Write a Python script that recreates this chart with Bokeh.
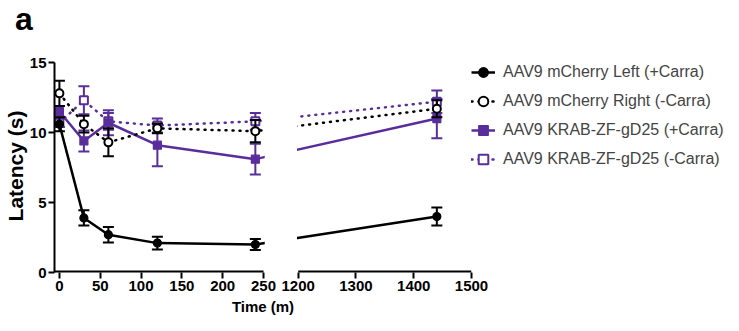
from bokeh.plotting import figure
from bokeh.layouts import column
from bokeh.models import (ColumnDataSource, Range1d, FixedTicker, Legend, LegendItem,
                          BoxAnnotation, Div)
from bokeh.embed import file_html
from bokeh.resources import INLINE

FONT = "Liberation Sans"
BLACK = "#000000"
PURPLE = "#5a2d9c"

# ---------------- data ----------------
time_min = [0, 30, 60, 120, 240, 1440]
left_ticks = [0, 50, 100, 150, 200, 250]
right_ticks = [1200, 1300, 1400, 1500]
y_ticks = [0, 5, 10, 15]

series_labels = ["AAV9 mCherry Left (+Carra)", "AAV9 mCherry Right (-Carra)",
                 "AAV9 KRAB-ZF-gD25 (+Carra)", "AAV9 KRAB-ZF-gD25 (-Carra)"]

mcherry_left_mean = [10.6, 3.9, 2.7, 2.1, 2.0, 4.0]
mcherry_left_sem = [0.5, 0.55, 0.55, 0.45, 0.4, 0.65]
mcherry_right_mean = [12.8, 10.6, 9.3, 10.3, 10.1, 11.7]
mcherry_right_sem = [0.9, 0.6, 1.0, 0.35, 0.8, 0.6]
krab_plus_mean = [11.5, 9.4, 10.7, 9.1, 8.1, 11.0]
krab_plus_sem = [0.4, 0.75, 0.9, 1.5, 1.1, 1.4]
krab_minus_mean = [10.7, 12.3, 10.8, 10.5, 10.8, 12.2]
krab_minus_sem = [0.3, 1.0, 0.6, 0.5, 0.6, 0.8]

# ---------------- broken x axis ----------------
LEFT_END = 250
RIGHT_START = 1200
RIGHT_END = 1500
GAP_UNITS = 42.5
RIGHT_SCALE = 0.7075
X_START = -6


def axis_pos(t):
    if t <= LEFT_END:
        return float(t)
    return LEFT_END + GAP_UNITS + (t - RIGHT_START) * RIGHT_SCALE


x_end = axis_pos(RIGHT_END)

p = figure(frame_width=417, frame_height=213,
           x_range=Range1d(X_START, x_end), y_range=Range1d(0, 15.22),
           output_backend="svg", toolbar_location=None, title_location=None,
           min_border_left=48, min_border_right=0, min_border_top=21, min_border_bottom=0)
p.outline_line_color = None
p.xgrid.visible = False
p.ygrid.visible = False
p.background_fill_color = "white"
p.border_fill_color = "white"

xa = p.xaxis[0]
xa.ticker = FixedTicker(ticks=left_ticks + [axis_pos(t) for t in right_ticks])
xa.major_label_overrides = {axis_pos(t): str(t) for t in right_ticks}
xa.axis_line_color = None
xa.axis_label = "Time (m)"
xa.axis_label_standoff = 4
xa.major_label_standoff = 2

ya = p.yaxis[0]
ya.ticker = FixedTicker(ticks=y_ticks)
ya.bounds = (0, 15)
ya.axis_line_width = 2
ya.axis_line_color = BLACK
ya.axis_label = "Latency (s)"
ya.axis_label_standoff = 0
ya.major_label_standoff = 2

for ax in (xa, ya):
    ax.major_tick_line_width = 2
    ax.major_tick_line_color = BLACK
    ax.major_tick_out = 6
    ax.major_tick_in = 0
    ax.minor_tick_line_color = None
    ax.major_label_text_font = FONT
    ax.major_label_text_font_style = "bold"
    ax.major_label_text_font_size = "15px"
    ax.major_label_text_color = BLACK
    ax.axis_label_text_font = FONT
    ax.axis_label_text_font_style = "bold"
    ax.axis_label_text_color = BLACK
xa.axis_label_text_font_size = "15px"
ya.axis_label_text_font_size = "21px"

# x axis line in two pieces (broken axis), drawn at the bottom edge of the frame
axis_src = ColumnDataSource(dict(
    x0=[X_START, axis_pos(right_ticks[0])],
    x1=[float(left_ticks[-1]), axis_pos(right_ticks[-1])],
    y=[y_ticks[0], y_ticks[0]],
))
p.segment(x0="x0", y0="y", x1="x1", y1="y", source=axis_src, line_color=BLACK, line_width=4)

xpos = [axis_pos(t) for t in time_min]

series = [
    # label, mean, sem, color, dashed, marker, filled
    (series_labels[3], krab_minus_mean, krab_minus_sem, PURPLE, True, "square", False),
    (series_labels[2], krab_plus_mean, krab_plus_sem, PURPLE, False, "square", True),
    (series_labels[1], mcherry_right_mean, mcherry_right_sem, BLACK, True, "circle", False),
    (series_labels[0], mcherry_left_mean, mcherry_left_sem, BLACK, False, "circle", True),
]

legend_map = {}
for label, mean, sem, color, dashed, marker, filled in series:
    src = ColumnDataSource(dict(
        x=xpos, y=mean,
        lo=[m - s for m, s in zip(mean, sem)],
        hi=[m + s for m, s in zip(mean, sem)],
    ))
    if dashed:
        lr = p.line("x", "y", source=src, line_color=color, line_width=2.5,
                    line_dash="1 6", line_cap="round")
    else:
        lr = p.line("x", "y", source=src, line_color=color, line_width=2.5)
    p.segment(x0="x", y0="lo", x1="x", y1="hi", source=src, line_color=color, line_width=2)
    p.scatter("x", "lo", source=src, marker="dash", size=11, line_color=color, line_width=2)
    p.scatter("x", "hi", source=src, marker="dash", size=11, line_color=color, line_width=2)
    if filled:
        mr = p.scatter("x", "y", source=src, marker=marker, size=8,
                       fill_color=color, line_color=color, line_width=1.2)
    else:
        mr = p.scatter("x", "y", source=src, marker=marker, size=8,
                       fill_color="white", line_color=color, line_width=2)
    legend_map[label] = [lr, mr]

# blank out the lines inside the axis break
p.add_layout(BoxAnnotation(left=LEFT_END + 1.5, right=axis_pos(RIGHT_START) - 1.5,
                           fill_color="white", fill_alpha=1.0, line_color=None,
                           level="overlay"))

items = [LegendItem(label=lab, renderers=legend_map[lab]) for lab in series_labels]
legend = Legend(items=items, location="top_left", margin=0, padding=1, spacing=3,
                glyph_width=24, glyph_height=26, label_height=26, label_standoff=8,
                label_text_font=FONT, label_text_font_size="16px",
                border_line_color=None, background_fill_alpha=0)
p.add_layout(legend, "right")

panel_letter = Div(text="a", width=60, height=28,
                   styles={"font-family": FONT, "font-size": "32px", "font-weight": "bold",
                           "line-height": "28px", "color": BLACK, "padding-left": "10px"})

layout = column(panel_letter, p)
open("out.html", "w").write(file_html(layout, INLINE))
